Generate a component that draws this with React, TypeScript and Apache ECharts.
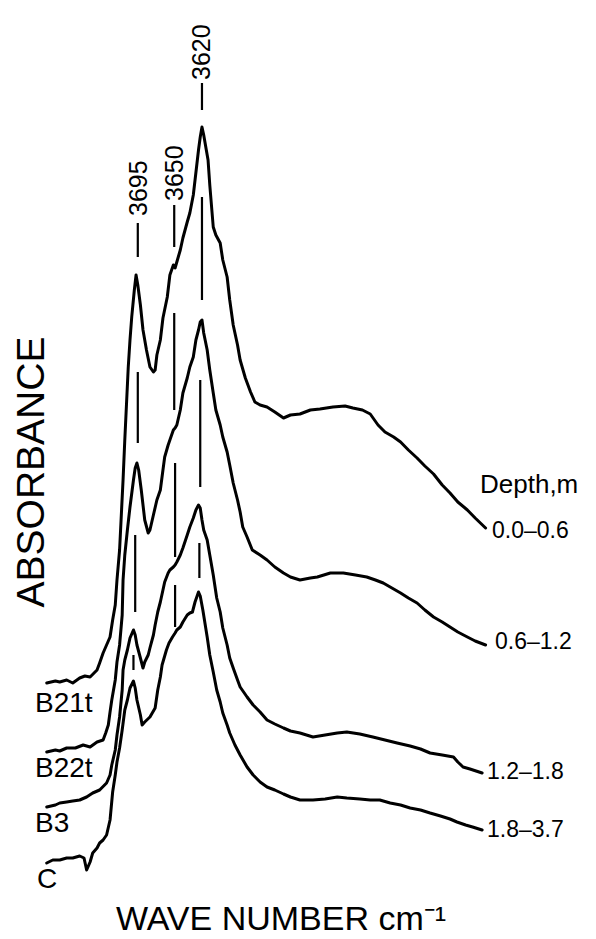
import React, { useEffect, useRef } from "react";
import * as echarts from "echarts";

// Absorbance (arbitrary, offset) vs wave number (cm-1)
const B21t: [number, number][] = [
  [3798, 2.17], [3788, 2.19], [3783, 2.18], [3775, 2.2], [3768, 2.17], [3760, 2.22], [3754, 2.24],
  [3748, 2.23], [3740, 2.3], [3737, 2.37], [3733, 2.47], [3729, 2.55], [3725, 2.63], [3722, 2.8],
  [3719, 2.95], [3717, 3.2], [3714, 3.5], [3710, 4.2], [3708, 4.6], [3704, 5.33], [3702, 5.6],
  [3700, 5.83], [3697, 6.1], [3695, 6.25], [3693, 6.15], [3690, 5.95], [3687, 5.7], [3683, 5.5],
  [3679, 5.33], [3675, 5.28], [3673, 5.3], [3671, 5.45], [3667, 5.6], [3664, 5.82], [3659, 6.03],
  [3656, 6.25], [3652, 6.35], [3650, 6.32], [3648, 6.38], [3644, 6.5], [3641, 6.62], [3636, 6.78],
  [3633, 6.87], [3629, 7.05], [3627, 7.2], [3623, 7.5], [3621, 7.63], [3619, 7.73], [3617, 7.65],
  [3614, 7.5], [3612, 7.4], [3610, 7.15], [3606, 6.73], [3603, 6.65], [3598, 6.57], [3595, 6.4],
  [3590, 6.23], [3587, 6.0], [3583, 5.75], [3578, 5.55], [3575, 5.4], [3569, 5.22], [3563, 5.08],
  [3558, 4.98], [3552, 4.95], [3544, 4.93], [3535, 4.88], [3525, 4.82], [3517, 4.85], [3506, 4.86],
  [3494, 4.9], [3483, 4.91], [3468, 4.93], [3454, 4.94], [3445, 4.92], [3434, 4.9], [3425, 4.86],
  [3416, 4.75], [3408, 4.68], [3398, 4.63], [3390, 4.58], [3381, 4.5], [3371, 4.42], [3362, 4.34],
  [3352, 4.26], [3342, 4.15], [3333, 4.07], [3324, 3.98], [3313, 3.9], [3304, 3.82], [3292, 3.72],
];

const B22t: [number, number][] = [
  [3798, 1.48], [3788, 1.5], [3783, 1.49], [3775, 1.52], [3765, 1.52], [3756, 1.55], [3748, 1.53],
  [3740, 1.58], [3733, 1.6], [3730, 1.67], [3727, 1.75], [3725, 1.88], [3723, 2.0], [3719, 2.2],
  [3717, 2.38], [3714, 2.55], [3711, 2.85], [3710, 3.2], [3708, 3.45], [3705, 3.7], [3702, 3.93],
  [3698, 4.2], [3696, 4.32], [3694, 4.37], [3692, 4.3], [3689, 4.1], [3687, 3.95], [3685, 3.8],
  [3681, 3.67], [3679, 3.7], [3675, 3.85], [3671, 4.0], [3667, 4.1], [3664, 4.3], [3662, 4.43],
  [3658, 4.55], [3656, 4.6], [3652, 4.7], [3650, 4.72], [3648, 4.75], [3644, 4.9], [3641, 5.07],
  [3636, 5.22], [3633, 5.33], [3629, 5.43], [3626, 5.6], [3623, 5.7], [3621, 5.78], [3619, 5.8],
  [3617, 5.67], [3613, 5.5], [3610, 5.3], [3606, 5.07], [3603, 4.9], [3598, 4.75], [3595, 4.63],
  [3590, 4.48], [3587, 4.35], [3583, 4.17], [3578, 4.0], [3575, 3.88], [3572, 3.73], [3567, 3.63],
  [3561, 3.5], [3552, 3.45], [3544, 3.4], [3535, 3.33], [3525, 3.27], [3517, 3.23], [3506, 3.2],
  [3494, 3.22], [3486, 3.23], [3471, 3.27], [3456, 3.27], [3442, 3.25], [3429, 3.23], [3419, 3.2],
  [3410, 3.17], [3400, 3.12], [3390, 3.07], [3381, 3.02], [3371, 2.97], [3362, 2.9], [3352, 2.83],
  [3342, 2.78], [3333, 2.73], [3324, 2.68], [3313, 2.63], [3304, 2.59], [3292, 2.55],
];

const B3: [number, number][] = [
  [3798, 0.93], [3788, 0.95], [3783, 0.97], [3775, 0.98], [3768, 0.99], [3760, 1.0], [3752, 1.03],
  [3745, 1.07], [3737, 1.1], [3729, 1.17], [3725, 1.25], [3723, 1.35], [3719, 1.5], [3717, 1.65],
  [3714, 1.83], [3711, 2.1], [3710, 2.3], [3708, 2.4], [3705, 2.5], [3702, 2.62], [3698, 2.7],
  [3696, 2.65], [3694, 2.55], [3690, 2.42], [3687, 2.32], [3685, 2.38], [3681, 2.45], [3679, 2.52],
  [3675, 2.65], [3673, 2.75], [3670, 2.88], [3667, 2.98], [3664, 3.1], [3662, 3.18], [3658, 3.27],
  [3656, 3.3], [3652, 3.33], [3650, 3.35], [3648, 3.38], [3644, 3.45], [3641, 3.52], [3636, 3.65],
  [3633, 3.73], [3629, 3.82], [3626, 3.9], [3623, 3.95], [3621, 3.92], [3619, 3.8], [3617, 3.7],
  [3613, 3.6], [3610, 3.45], [3606, 3.25], [3602, 3.02], [3598, 2.88], [3595, 2.72], [3590, 2.55],
  [3587, 2.42], [3583, 2.32], [3578, 2.2], [3575, 2.13], [3567, 2.03], [3560, 1.95], [3552, 1.88],
  [3544, 1.8], [3535, 1.76], [3525, 1.72], [3517, 1.69], [3506, 1.67], [3491, 1.63], [3477, 1.65],
  [3463, 1.67], [3452, 1.68], [3437, 1.66], [3422, 1.63], [3408, 1.6], [3394, 1.57], [3379, 1.54],
  [3367, 1.51], [3356, 1.47], [3342, 1.45], [3329, 1.43], [3324, 1.38], [3318, 1.33], [3310, 1.31],
  [3303, 1.29], [3296, 1.27],
];

const C: [number, number][] = [
  [3798, 0.37], [3791, 0.4], [3783, 0.4], [3775, 0.42], [3768, 0.42], [3760, 0.44], [3755, 0.42],
  [3752, 0.3], [3748, 0.38], [3745, 0.47], [3740, 0.52], [3737, 0.57], [3733, 0.6], [3729, 0.65],
  [3725, 0.8], [3722, 1.08], [3719, 1.25], [3717, 1.38], [3714, 1.52], [3711, 1.7], [3708, 1.9],
  [3705, 2.0], [3702, 2.12], [3698, 2.19], [3696, 2.12], [3694, 2.0], [3690, 1.85], [3688, 1.75],
  [3685, 1.78], [3679, 1.83], [3673, 1.92], [3670, 2.1], [3667, 2.23], [3665, 2.35], [3660, 2.5],
  [3657, 2.57], [3653, 2.63], [3650, 2.67], [3648, 2.7], [3644, 2.73], [3641, 2.78], [3636, 2.85],
  [3633, 2.87], [3630, 2.88], [3627, 2.98], [3623, 3.08], [3621, 3.04], [3618, 2.9], [3613, 2.63],
  [3610, 2.45], [3606, 2.28], [3602, 2.1], [3598, 1.98], [3595, 1.87], [3590, 1.75], [3587, 1.67],
  [3581, 1.55], [3575, 1.45], [3567, 1.33], [3560, 1.25], [3552, 1.18], [3544, 1.13], [3535, 1.1],
  [3525, 1.06], [3517, 1.03], [3506, 1.0], [3491, 1.0], [3477, 1.01], [3463, 1.03], [3452, 1.02],
  [3437, 1.01], [3425, 1.0], [3414, 1.0], [3402, 0.97], [3390, 0.95], [3379, 0.92], [3367, 0.9],
  [3356, 0.87], [3344, 0.84], [3333, 0.81], [3325, 0.78], [3315, 0.75], [3307, 0.73], [3296, 0.7],
];

const horizonNames = ["B21t", "B22t", "B3", "C"];
const depthLabels = ["0.0\u20130.6", "0.6\u20131.2", "1.2\u20131.8", "1.8\u20133.7"];
const peakLabels = ["3695", "3650", "3620"];

// peak marker segments: [wave number, absorbance from, absorbance to]
const marker3695: [number, number, number][] = [
  [3693, 6.77, 6.43], [3693, 5.28, 4.57], [3696, 3.65, 2.88], [3698, 2.45, 2.3],
];
const marker3650: [number, number, number][] = [
  [3651, 6.95, 6.53], [3651, 5.87, 4.9], [3650, 4.37, 3.43], [3650, 3.15, 2.73],
];
const marker3620: [number, number, number][] = [
  [3619, 8.17, 7.9], [3619, 7.03, 6.0], [3621, 5.2, 4.13], [3622, 3.57, 3.22],
];

const FONT = "'Liberation Sans', Arial, Helvetica, sans-serif";

function segData(segs: [number, number, number][]) {
  const out: any[] = [];
  segs.forEach(([w, a, b]) => {
    out.push([w, a], [w, b], [w, "-"]);
  });
  return out;
}

export default function App() {
  const ref = useRef<HTMLDivElement>(null);
  useEffect(() => {
    if (!ref.current) return;
    const chart = echarts.init(ref.current, undefined, { renderer: "svg" });
    const curves = [B21t, B22t, B3, C];
    const curveSeries = curves.map((d, i) => ({
      type: "line",
      name: horizonNames[i] + " " + depthLabels[i],
      data: d,
      showSymbol: false,
      smooth: false,
      silent: true,
      lineStyle: { color: "#000", width: 3, join: "round", cap: "round" },
      z: 3,
    }));
    const markerSeries = [marker3695, marker3650, marker3620].map((m, i) => ({
      type: "line",
      name: "peak " + peakLabels[i],
      data: segData(m),
      showSymbol: false,
      connectNulls: false,
      silent: true,
      lineStyle: { color: "#000", width: 2.2 },
      z: 2,
    }));

    const txt = (text: string, x: number, y: number, fontSize: number, extra: any = {}) => ({
      type: "text",
      x,
      y,
      silent: true,
      ...extra,
      style: {
        text,
        fontSize,
        fontFamily: FONT,
        fill: "#000",
        align: extra.align || "left",
        verticalAlign: "middle",
      },
    });

    chart.setOption({
      animation: false,
      backgroundColor: "#fff",
      grid: { left: 45, right: 74, top: 0, bottom: 39 },
      xAxis: { type: "value", min: 3250, max: 3800, inverse: true, show: false },
      yAxis: { type: "value", min: 0, max: 9, show: false },
      series: [...curveSeries, ...markerSeries],
      graphic: [
        txt("ABSORBANCE", 30, 472, 39, { rotation: Math.PI / 2, align: "center" }),
        txt("WAVE NUMBER cm\u207B\u00B9", 281, 918, 34, { align: "center" }),
        txt(peakLabels[0], 137.5, 216, 25, { rotation: Math.PI / 2 }),
        txt(peakLabels[1], 173.5, 201, 25, { rotation: Math.PI / 2 }),
        txt(peakLabels[2], 201, 80, 25, { rotation: Math.PI / 2 }),
        txt(horizonNames[0], 35, 702, 28),
        txt(horizonNames[1], 35, 767, 28),
        txt(horizonNames[2], 35, 822, 28),
        txt(horizonNames[3], 37, 878, 28),
        txt("Depth,m", 480, 484, 26),
        txt(depthLabels[0], 492, 530, 23),
        txt(depthLabels[1], 495, 641, 23),
        txt(depthLabels[2], 487, 771, 23),
        txt(depthLabels[3], 487, 829, 23),
      ],
    });
    return () => chart.dispose();
  }, []);
  return (
    <div
      ref={ref}
      style={{ position: "absolute", left: 0, top: 0, width: 596, height: 939, background: "#fff" }}
    />
  );
}
